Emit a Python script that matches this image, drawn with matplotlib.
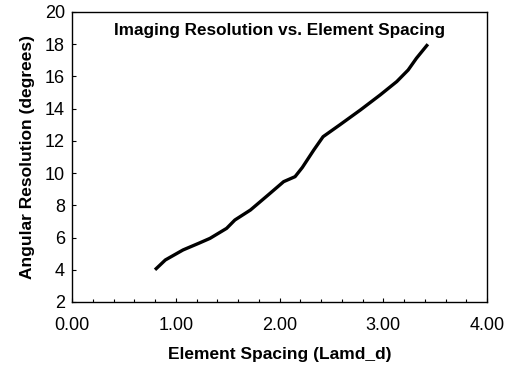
import matplotlib
matplotlib.use("Agg")
import matplotlib.pyplot as plt
from matplotlib.ticker import MultipleLocator, FormatStrFormatter

# dados
espacamento = [0.80, 0.90, 1.07, 1.22, 1.33, 1.49, 1.57, 1.72, 1.89, 2.04, 2.15,
               2.22, 2.33, 2.42, 2.58, 2.78, 2.97, 3.13, 3.24, 3.32, 3.43]
resolucao = [4.00, 4.61, 5.23, 5.64, 5.95, 6.57, 7.09, 7.71, 8.64, 9.47, 9.78,
             10.35, 11.43, 12.26, 12.99, 13.92, 14.85, 15.68, 16.40, 17.13, 18.0]

plt.rcParams["font.family"] = ["Liberation Sans", "DejaVu Sans"]

fig = plt.figure(figsize=(5.09, 3.68), dpi=100)
ax = fig.add_axes([72 / 509, 1 - 302 / 368, 415 / 509, 290 / 368])

ax.plot(espacamento, resolucao, color="black", linewidth=2.4,
        solid_capstyle="butt", solid_joinstyle="round")

ax.set_xlim(0, 4)
ax.set_ylim(2, 20)
ax.xaxis.set_major_locator(MultipleLocator(1))
ax.xaxis.set_minor_locator(MultipleLocator(0.2))
ax.xaxis.set_major_formatter(FormatStrFormatter("%.2f"))
ax.yaxis.set_major_locator(MultipleLocator(2))
ax.tick_params(direction="in", length=3, width=0.8, labelsize=13, pad=5)
ax.tick_params(which="minor", direction="in", length=2, width=0.8)
ax.tick_params(axis="x", pad=11)

for s in ax.spines.values():
    s.set_linewidth(1.0)

ax.text(0.5, 0.935, "Imaging Resolution vs. Element Spacing", transform=ax.transAxes,
        ha="center", va="center", fontsize=12.3, fontweight="bold")
ax.set_xlabel("Element Spacing (Lamd_d)", fontsize=12.5, fontweight="bold", labelpad=9)
ax.set_ylabel("Angular Resolution (degrees)", fontsize=12.5, fontweight="bold", labelpad=7)

fig.savefig("out.png", dpi=100)
